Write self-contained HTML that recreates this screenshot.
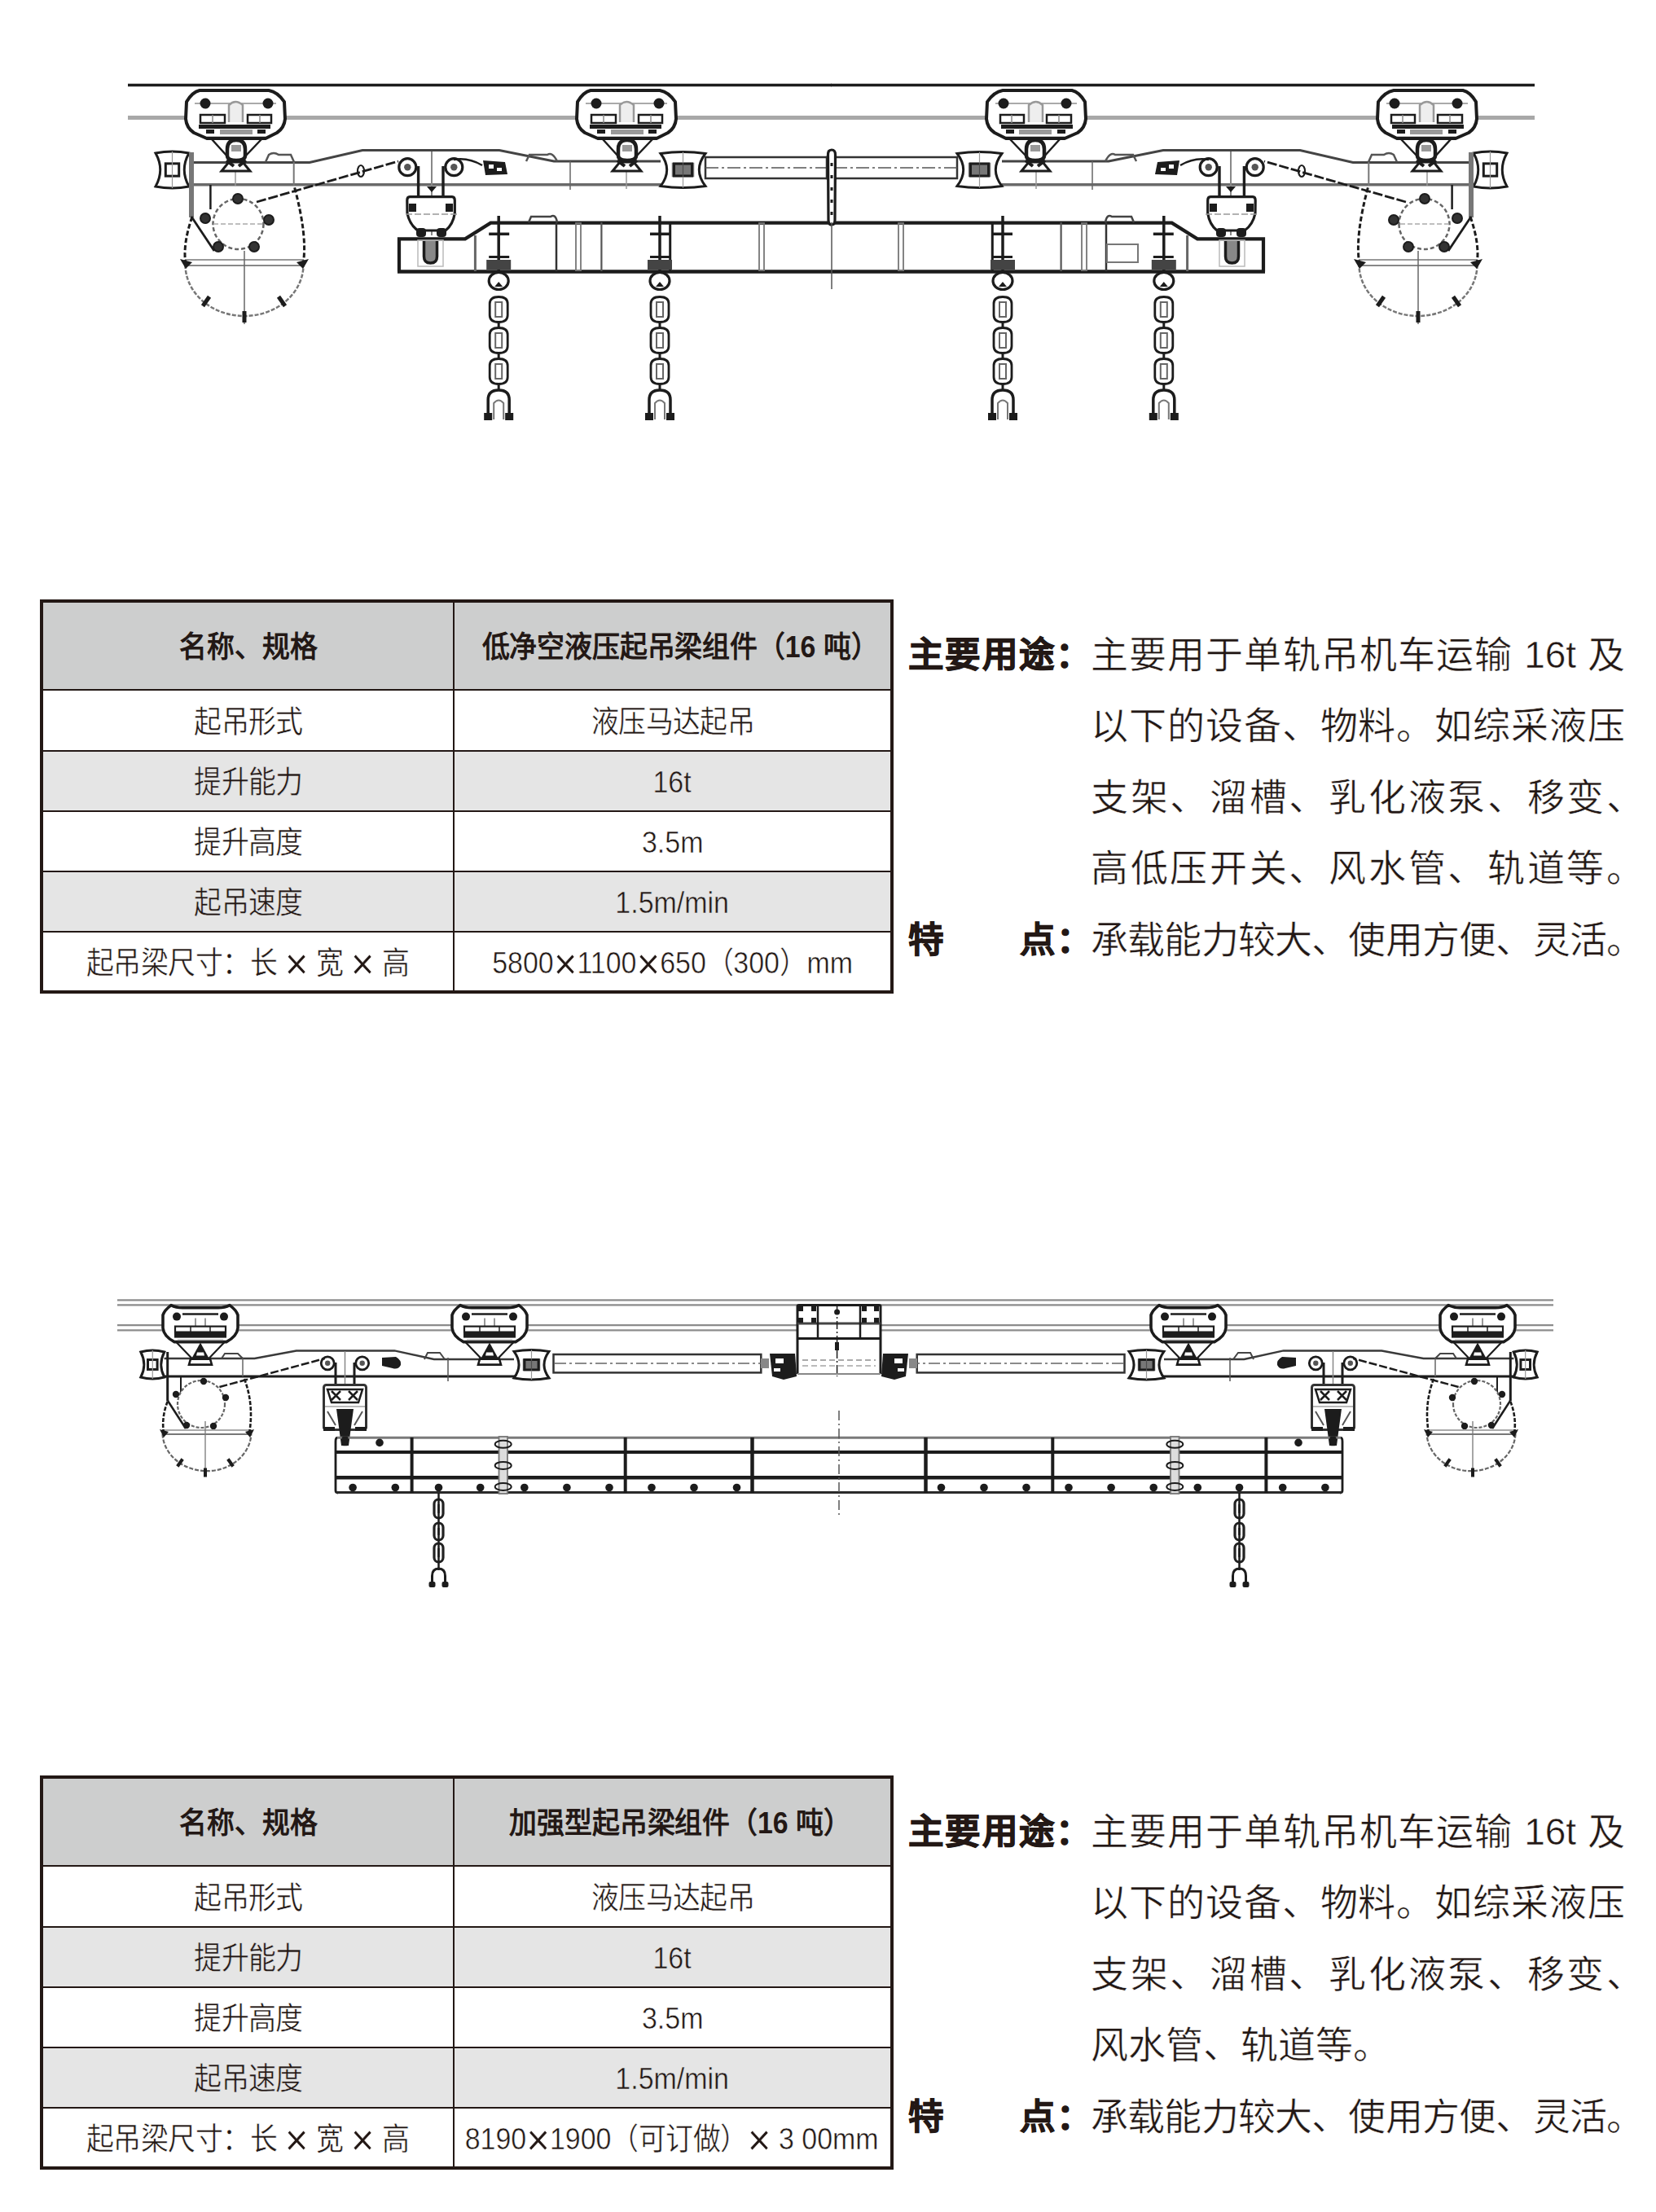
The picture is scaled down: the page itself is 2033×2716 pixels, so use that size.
<!DOCTYPE html>
<html lang="zh-CN">
<head>
<meta charset="utf-8">
<style>
html,body{margin:0;padding:0;background:#fff;}
body{width:2033px;height:2716px;position:relative;overflow:hidden;font-family:"Liberation Sans",sans-serif;color:#231815;}
.tbl{position:absolute;left:49px;width:1048px;height:484px;box-sizing:border-box;border:4px solid #231815;background:#fff;}
.row{position:absolute;left:0;width:1040px;}
.hl{position:absolute;left:0;width:1040px;height:2.2px;background:#231815;}
.vl{position:absolute;left:503px;top:0;width:2.4px;height:476px;background:#231815;}
.c{position:absolute;white-space:nowrap;font-size:37.5px;line-height:40px;height:40px;text-align:center;margin-top:2px;}
.x{font-size:1.45em;line-height:0;vertical-align:-0.12em;font-weight:300;}
.c1{left:0;width:503px;}
.c2{left:505px;width:535px;}
.c i{font-style:normal;}
.c span{display:inline-block;transform:scaleX(0.905);transform-origin:50% 50%;}
.b{font-weight:bold;font-size:36px;}
.b span{transform:scaleX(0.94);}
.thin{-webkit-text-stroke:0.5px #fff;}
.thg{-webkit-text-stroke:0.5px #e5e5e5;}
.txt{position:absolute;left:1115px;width:884px;font-size:46px;white-space:nowrap;}
.ln{position:absolute;left:0;height:88px;line-height:88px;}
.lab{position:absolute;left:0;font-weight:bold;font-size:43.5px;letter-spacing:2.3px;-webkit-text-stroke:1px #231815;}
.pe{letter-spacing:-23px;}
.body{-webkit-text-stroke:0.5px #fff;position:absolute;left:224px;width:656px;text-align:justify;text-align-last:justify;}
</style>
</head>
<body>
<svg width="2033" height="2716" viewBox="0 0 2033 2716" style="position:absolute;left:0;top:0"><g id="d1h"><line x1="157" y1="104.5" x2="1021" y2="104.5" stroke="#1c1c1c" stroke-width="3.5"/><line x1="157" y1="144.5" x2="1021" y2="144.5" stroke="#a8a8a8" stroke-width="5"/><path d="M232,199.5 L380,199.5 L445,184.6 L613,184.6 L680,198 L811,198" fill="none" stroke="#444" stroke-width="3"/><line x1="232" y1="226.8" x2="811" y2="226.8" stroke="#6a6a6a" stroke-width="3.5"/><line x1="360.7" y1="199" x2="360.7" y2="228" stroke="#777" stroke-width="2"/><path d="M326,199 L330,190 Q336,186 342,190 L357,190 L361,199" fill="none" stroke="#555" stroke-width="2.5"/><path d="M646,198 L650,190 L672,190 Q678,186 684,198" fill="none" stroke="#555" stroke-width="2.5"/><line x1="700" y1="198" x2="700" y2="233" stroke="#666" stroke-width="1.5"/><line x1="530" y1="186" x2="530" y2="289" stroke="#888" stroke-width="2"/><line x1="289" y1="209" x2="289" y2="228" stroke="#999" stroke-width="1.5"/><line x1="769" y1="209" x2="769" y2="232" stroke="#999" stroke-width="1.5"/><path d="M191,188 Q211.5,184 232,188 Q220.52,208.5 232,229 Q211.5,233 191,229 Q202.48,208.5 191,188 Z" fill="#fff" stroke="#1c1c1c" stroke-width="3"/><rect x="203.3" y="200.85" width="16.400000000000002" height="15.3" fill="none" stroke="#1c1c1c" stroke-width="3"/><line x1="211.5" y1="186" x2="211.5" y2="231" stroke="#999" stroke-width="1.2"/><path d="M811,188.5 Q838.5,184.5 866,188.5 Q850.6,208.5 866,228.5 Q838.5,232.5 811,228.5 Q826.4,208.5 811,188.5 Z" fill="#fff" stroke="#1c1c1c" stroke-width="3"/><rect x="827.5" y="201.02" width="22.0" height="14.96" fill="none" stroke="#1c1c1c" stroke-width="3"/><line x1="838.5" y1="186.5" x2="838.5" y2="230.5" stroke="#999" stroke-width="1.2"/><rect x="824.75" y="199.7" width="27.5" height="17.6" fill="#1c1c1c" opacity="0.6"/><rect x="866" y="193" width="160" height="26" fill="#fff" stroke="#333" stroke-width="2.5"/><line x1="866" y1="206" x2="1021" y2="206" stroke="#555" stroke-width="1.6" stroke-dasharray="16 4 3 4"/><g transform="translate(289,111) scale(1.0)"><path d="M-44,0 L41,0 Q52,2 60,14 L61,35 Q60,46 51,52 L37,59 L-35,59 L-51,52 Q-60,46 -61,35 L-60,14 Q-53,2 -44,0 Z" fill="#fff" stroke="#1c1c1c" stroke-width="4" stroke-linejoin="round"/><line x1="-50" y1="16" x2="50" y2="16" stroke="#aaa" stroke-width="2"/><circle cx="-37" cy="16" r="6.5" fill="#1c1c1c"/><circle cx="40" cy="16" r="6.5" fill="#1c1c1c"/><path d="M-8,39 L-8,18 Q0,10 9,18 L9,39" fill="#eee" stroke="#999" stroke-width="2.5"/><rect x="-43" y="30" width="30" height="10" fill="#fff" stroke="#1c1c1c" stroke-width="2.5"/><rect x="15" y="30" width="29" height="10" fill="#fff" stroke="#1c1c1c" stroke-width="2.5"/><line x1="-28" y1="30" x2="-28" y2="40" stroke="#888" stroke-width="1.5"/><line x1="30" y1="30" x2="30" y2="40" stroke="#888" stroke-width="1.5"/><rect x="-45" y="42" width="88" height="5" fill="#1c1c1c"/><rect x="-19" y="48" width="40" height="6" fill="#9a9a9a"/><rect x="-36" y="48" width="10" height="5" fill="#1c1c1c"/><rect x="27" y="48" width="10" height="5" fill="#1c1c1c"/><line x1="-35" y1="58" x2="37" y2="58" stroke="#1c1c1c" stroke-width="2.5"/><path d="M-29,60 L-9,82 M32,60 L11,82" stroke="#1c1c1c" stroke-width="2.5" fill="none"/><path d="M-10,72 Q-10,61 1,61 Q12,61 12,72 L12,80 Q12,86 1,86 Q-10,86 -10,80 Z" fill="#fff" stroke="#1c1c1c" stroke-width="4.5"/><rect x="-5" y="67" width="12" height="8" fill="#999"/><path d="M-8,88 L9,88 L18,99 L-17,99 Z" fill="#fff" stroke="#1c1c1c" stroke-width="3"/><path d="M-11,86 L-2,93 M13,86 L4,93" stroke="#1c1c1c" stroke-width="4"/></g><g transform="translate(769,111) scale(1.0)"><path d="M-44,0 L41,0 Q52,2 60,14 L61,35 Q60,46 51,52 L37,59 L-35,59 L-51,52 Q-60,46 -61,35 L-60,14 Q-53,2 -44,0 Z" fill="#fff" stroke="#1c1c1c" stroke-width="4" stroke-linejoin="round"/><line x1="-50" y1="16" x2="50" y2="16" stroke="#aaa" stroke-width="2"/><circle cx="-37" cy="16" r="6.5" fill="#1c1c1c"/><circle cx="40" cy="16" r="6.5" fill="#1c1c1c"/><path d="M-8,39 L-8,18 Q0,10 9,18 L9,39" fill="#eee" stroke="#999" stroke-width="2.5"/><rect x="-43" y="30" width="30" height="10" fill="#fff" stroke="#1c1c1c" stroke-width="2.5"/><rect x="15" y="30" width="29" height="10" fill="#fff" stroke="#1c1c1c" stroke-width="2.5"/><line x1="-28" y1="30" x2="-28" y2="40" stroke="#888" stroke-width="1.5"/><line x1="30" y1="30" x2="30" y2="40" stroke="#888" stroke-width="1.5"/><rect x="-45" y="42" width="88" height="5" fill="#1c1c1c"/><rect x="-19" y="48" width="40" height="6" fill="#9a9a9a"/><rect x="-36" y="48" width="10" height="5" fill="#1c1c1c"/><rect x="27" y="48" width="10" height="5" fill="#1c1c1c"/><line x1="-35" y1="58" x2="37" y2="58" stroke="#1c1c1c" stroke-width="2.5"/><path d="M-29,60 L-9,82 M32,60 L11,82" stroke="#1c1c1c" stroke-width="2.5" fill="none"/><path d="M-10,72 Q-10,61 1,61 Q12,61 12,72 L12,80 Q12,86 1,86 Q-10,86 -10,80 Z" fill="#fff" stroke="#1c1c1c" stroke-width="4.5"/><rect x="-5" y="67" width="12" height="8" fill="#999"/><path d="M-8,88 L9,88 L18,99 L-17,99 Z" fill="#fff" stroke="#1c1c1c" stroke-width="3"/><path d="M-11,86 L-2,93 M13,86 L4,93" stroke="#1c1c1c" stroke-width="4"/></g><circle cx="500.3" cy="205.2" r="10.5" fill="#fff" stroke="#1c1c1c" stroke-width="3.2"/><circle cx="500.3" cy="205.2" r="4.2" fill="#555"/><circle cx="557.3" cy="205.2" r="10.5" fill="#fff" stroke="#1c1c1c" stroke-width="3.2"/><circle cx="557.3" cy="205.2" r="4.2" fill="#555"/><path d="M513.6,204 L513.6,246 M544,204 L544,246" stroke="#1c1c1c" stroke-width="3.4"/><path d="M524,229 L536,229 L530,236 Z" fill="#1c1c1c"/><path d="M593,197 L620,199 L623,214 L596,215 Z" fill="#1c1c1c"/><rect x="600" y="202" width="6" height="5" fill="#fff"/><rect x="610" y="206" width="6" height="4" fill="#fff"/><path d="M557,196 Q575,193 592,203" fill="none" stroke="#1c1c1c" stroke-width="2.5"/><path d="M315,248 L489,198" fill="none" stroke="#1c1c1c" stroke-width="2.8" stroke-dasharray="12 3"/><ellipse cx="443" cy="210" rx="4" ry="7" fill="none" stroke="#1c1c1c" stroke-width="2.2"/><path d="M503,241.6 L555,241.6 Q558.3,241.6 558.3,246 L558.3,262 Q556,276 547,283 L513,283 Q503,276 500,262 L499.8,246 Q499.8,241.6 503,241.6 Z" fill="#fff" stroke="#1c1c1c" stroke-width="3.2"/><rect x="502" y="250" width="9" height="10" fill="#1c1c1c"/><rect x="547" y="250" width="9" height="10" fill="#1c1c1c"/><line x1="498" y1="263" x2="563" y2="263" stroke="#999" stroke-width="1.5" stroke-dasharray="8 3"/><rect x="511" y="280" width="12" height="11" rx="4" fill="#1c1c1c"/><rect x="536" y="280" width="12" height="11" rx="4" fill="#1c1c1c"/><path d="M490,333.5 L490,293.4 L571,293.4 L602.4,273.6 L1021,273.6" fill="none" stroke="#1c1c1c" stroke-width="4.2"/><line x1="488" y1="333.5" x2="1021" y2="333.5" stroke="#1c1c1c" stroke-width="4.5"/><path d="M520.5,296 L520.5,315 Q520.5,323 528.5,323 Q536.5,323 536.5,315 L536.5,296" fill="#888" stroke="#1c1c1c" stroke-width="3.5"/><rect x="513" y="295" width="31" height="32" fill="none" stroke="#bbb" stroke-width="1.5"/><line x1="583.4" y1="289" x2="583.4" y2="333" stroke="#666" stroke-width="3"/><line x1="683" y1="273" x2="683" y2="333" stroke="#333" stroke-width="2.5"/><rect x="707" y="274" width="6" height="58" fill="none" stroke="#777" stroke-width="1.8"/><line x1="738.4" y1="273" x2="738.4" y2="333" stroke="#555" stroke-width="2.2"/><line x1="822.7" y1="273" x2="822.7" y2="333" stroke="#1c1c1c" stroke-width="3"/><rect x="932" y="274" width="6" height="58" fill="none" stroke="#777" stroke-width="1.8"/><path d="M649,273 L652,266 L676,266 Q682,262 684,273" fill="none" stroke="#444" stroke-width="2.5"/><line x1="612.2" y1="265" x2="612.2" y2="333" stroke="#1c1c1c" stroke-width="3.5"/><line x1="600.2" y1="287.3" x2="625.2" y2="287.3" stroke="#1c1c1c" stroke-width="3.5"/><line x1="600.2" y1="315.5" x2="625.2" y2="315.5" stroke="#1c1c1c" stroke-width="3"/><rect x="597.2" y="319" width="30" height="12" fill="#444"/><g transform="translate(612.2,333) scale(1.0)"><ellipse cx="0" cy="12" rx="12" ry="10.5" fill="none" stroke="#1c1c1c" stroke-width="3.2"/><path d="M-5,19 L0,13 L5,19 Z" fill="#1c1c1c"/><path d="M-11,40 Q-11,31.5 0,31.5 Q11,31.5 11,40 L11,54 Q11,62.5 0,62.5 Q-11,62.5 -11,54 Z" fill="none" stroke="#1c1c1c" stroke-width="2.8"/><rect x="-4" y="38" width="8" height="18" fill="none" stroke="#666" stroke-width="2"/><line x1="0" y1="62" x2="0" y2="70" stroke="#1c1c1c" stroke-width="3"/><path d="M-11,78 Q-11,69.5 0,69.5 Q11,69.5 11,78 L11,92 Q11,100.5 0,100.5 Q-11,100.5 -11,92 Z" fill="none" stroke="#1c1c1c" stroke-width="2.8"/><rect x="-4" y="76" width="8" height="18" fill="none" stroke="#666" stroke-width="2"/><line x1="0" y1="100" x2="0" y2="108" stroke="#1c1c1c" stroke-width="3"/><path d="M-11,116 Q-11,107.5 0,107.5 Q11,107.5 11,116 L11,130 Q11,138.5 0,138.5 Q-11,138.5 -11,130 Z" fill="none" stroke="#1c1c1c" stroke-width="2.8"/><rect x="-4" y="114" width="8" height="18" fill="none" stroke="#666" stroke-width="2"/><line x1="0" y1="138" x2="0" y2="146" stroke="#1c1c1c" stroke-width="3"/><path d="M-13,182 L-13,158 Q-13,146 0,146 Q13,146 13,158 L13,182" fill="none" stroke="#1c1c1c" stroke-width="3.5"/><path d="M-6,182 L-6,162 Q0,155 6,162 L6,182" fill="none" stroke="#777" stroke-width="2"/><rect x="-18" y="174" width="10" height="9" fill="#1c1c1c"/><rect x="8" y="174" width="10" height="9" fill="#1c1c1c"/></g><line x1="810" y1="265" x2="810" y2="333" stroke="#1c1c1c" stroke-width="3.5"/><line x1="798" y1="287.3" x2="823" y2="287.3" stroke="#1c1c1c" stroke-width="3.5"/><line x1="798" y1="315.5" x2="823" y2="315.5" stroke="#1c1c1c" stroke-width="3"/><rect x="795" y="319" width="30" height="12" fill="#444"/><g transform="translate(810,333) scale(1.0)"><ellipse cx="0" cy="12" rx="12" ry="10.5" fill="none" stroke="#1c1c1c" stroke-width="3.2"/><path d="M-5,19 L0,13 L5,19 Z" fill="#1c1c1c"/><path d="M-11,40 Q-11,31.5 0,31.5 Q11,31.5 11,40 L11,54 Q11,62.5 0,62.5 Q-11,62.5 -11,54 Z" fill="none" stroke="#1c1c1c" stroke-width="2.8"/><rect x="-4" y="38" width="8" height="18" fill="none" stroke="#666" stroke-width="2"/><line x1="0" y1="62" x2="0" y2="70" stroke="#1c1c1c" stroke-width="3"/><path d="M-11,78 Q-11,69.5 0,69.5 Q11,69.5 11,78 L11,92 Q11,100.5 0,100.5 Q-11,100.5 -11,92 Z" fill="none" stroke="#1c1c1c" stroke-width="2.8"/><rect x="-4" y="76" width="8" height="18" fill="none" stroke="#666" stroke-width="2"/><line x1="0" y1="100" x2="0" y2="108" stroke="#1c1c1c" stroke-width="3"/><path d="M-11,116 Q-11,107.5 0,107.5 Q11,107.5 11,116 L11,130 Q11,138.5 0,138.5 Q-11,138.5 -11,130 Z" fill="none" stroke="#1c1c1c" stroke-width="2.8"/><rect x="-4" y="114" width="8" height="18" fill="none" stroke="#666" stroke-width="2"/><line x1="0" y1="138" x2="0" y2="146" stroke="#1c1c1c" stroke-width="3"/><path d="M-13,182 L-13,158 Q-13,146 0,146 Q13,146 13,158 L13,182" fill="none" stroke="#1c1c1c" stroke-width="3.5"/><path d="M-6,182 L-6,162 Q0,155 6,162 L6,182" fill="none" stroke="#777" stroke-width="2"/><rect x="-18" y="174" width="10" height="9" fill="#1c1c1c"/><rect x="8" y="174" width="10" height="9" fill="#1c1c1c"/></g><rect x="232" y="187" width="6" height="80" fill="#777"/><line x1="258.4" y1="227" x2="258.4" y2="257" stroke="#1c1c1c" stroke-width="2.5"/><circle cx="292.5" cy="275" r="31" fill="#fff" stroke="#666" stroke-width="2.5" stroke-dasharray="5 3"/><circle cx="252" cy="268" r="6" fill="#333" stroke="#1c1c1c" stroke-width="2"/><circle cx="330" cy="270" r="6" fill="#333" stroke="#1c1c1c" stroke-width="2"/><circle cx="268" cy="303" r="6" fill="#333" stroke="#1c1c1c" stroke-width="2"/><circle cx="312" cy="303" r="6" fill="#333" stroke="#1c1c1c" stroke-width="2"/><circle cx="292" cy="244" r="6" fill="#333" stroke="#1c1c1c" stroke-width="2"/><line x1="262" y1="275" x2="322" y2="275" stroke="#aaa" stroke-width="1.5" stroke-dasharray="6 3"/><path d="M235,266 L263,308" stroke="#1c1c1c" stroke-width="2.8"/><path d="M227.5,325 A72.5,63 0 0 0 372.5,325" fill="none" stroke="#777" stroke-width="2.5" stroke-dasharray="5 2"/><line x1="227" y1="319" x2="373" y2="319" stroke="#999" stroke-width="2"/><line x1="227" y1="326" x2="373" y2="326" stroke="#888" stroke-width="2"/><line x1="300" y1="308" x2="300" y2="398" stroke="#666" stroke-width="1.5"/><path d="M228,325 Q224,300 236,266 M372,325 Q378,290 361,228" fill="none" stroke="#1c1c1c" stroke-width="3" stroke-dasharray="6 3"/><path d="M221,318 L236,322 L228,330 Z M379,318 L364,322 L372,330 Z" fill="#1c1c1c"/><rect x="250.5" y="363" width="5" height="14" fill="#1c1c1c" transform="rotate(35 253 370)"/><rect x="297.5" y="382" width="5" height="14" fill="#1c1c1c" transform="rotate(0 300 389)"/><rect x="343.5" y="363" width="5" height="14" fill="#1c1c1c" transform="rotate(-35 346 370)"/></g><use href="#d1h" transform="translate(2041,0) scale(-1,1)"/><path d="M1016.5,190 Q1016.5,184 1021,184 Q1025.5,184 1025.5,190 L1025,270 Q1025,276 1021,276 Q1017,276 1017,270 Z" fill="#fff" stroke="#1c1c1c" stroke-width="3.2"/><rect x="1019.5" y="200" width="3" height="4" fill="#1c1c1c"/><rect x="1019.5" y="215" width="3" height="4" fill="#1c1c1c"/><rect x="1019.5" y="230" width="3" height="4" fill="#1c1c1c"/><rect x="1019.5" y="245" width="3" height="4" fill="#1c1c1c"/><rect x="1019.5" y="260" width="3" height="4" fill="#1c1c1c"/><line x1="1021" y1="273" x2="1021" y2="355" stroke="#555" stroke-width="1.5"/><rect x="1359" y="300" width="38" height="22" fill="none" stroke="#777" stroke-width="2"/><line x1="144" y1="1596.4" x2="1907" y2="1596.4" stroke="#8c8c8c" stroke-width="2.2"/><line x1="144" y1="1602.4" x2="1907" y2="1602.4" stroke="#8c8c8c" stroke-width="2.2"/><line x1="144" y1="1627.2" x2="1907" y2="1627.2" stroke="#8c8c8c" stroke-width="2.2"/><line x1="144" y1="1633.4" x2="1907" y2="1633.4" stroke="#8c8c8c" stroke-width="2.2"/><g id="d2h"><path d="M201.6,1668 L312.5,1668 L363.8,1658.4 L484.3,1658.4 L532.7,1669 L631,1669" fill="none" stroke="#3a3a3a" stroke-width="2.5"/><line x1="199" y1="1690" x2="640" y2="1690" stroke="#1c1c1c" stroke-width="3"/><line x1="298" y1="1668" x2="298" y2="1690" stroke="#666" stroke-width="1.5"/><line x1="550" y1="1667" x2="550" y2="1696" stroke="#555" stroke-width="1.5"/><path d="M272,1668 L276,1662 L292,1662 L298,1668 M521,1669 L525,1661 L540,1661 L546,1669" fill="none" stroke="#444" stroke-width="2"/><path d="M172.8,1660 Q187.3,1656 201.8,1660 Q193.68,1675.5 201.8,1691 Q187.3,1695 172.8,1691 Q180.92000000000002,1675.5 172.8,1660 Z" fill="#fff" stroke="#1c1c1c" stroke-width="3"/><rect x="181.5" y="1669.55" width="11.600000000000001" height="11.9" fill="none" stroke="#1c1c1c" stroke-width="3"/><line x1="187.3" y1="1658" x2="187.3" y2="1693" stroke="#999" stroke-width="1.2"/><path d="M631,1659.4 Q652.5,1655.4 674,1659.4 Q661.96,1675.7 674,1692.0 Q652.5,1696.0 631,1692.0 Q643.04,1675.7 631,1659.4 Z" fill="#fff" stroke="#1c1c1c" stroke-width="3"/><rect x="643.9" y="1669.478" width="17.2" height="12.444" fill="none" stroke="#1c1c1c" stroke-width="3"/><line x1="652.5" y1="1657.4" x2="652.5" y2="1694.0" stroke="#999" stroke-width="1.2"/><rect x="641.75" y="1668.38" width="21.5" height="14.64" fill="#1c1c1c" opacity="0.6"/><rect x="679.5" y="1663" width="254.8" height="22.4" fill="#fff" stroke="#333" stroke-width="2.5"/><line x1="681" y1="1674" x2="934" y2="1674" stroke="#666" stroke-width="1.5" stroke-dasharray="14 4 3 4"/><path d="M945,1662 L976,1662 L978,1690 L962,1694 L948,1690 Z" fill="#1c1c1c"/><rect x="952" y="1668" width="10" height="6" fill="#fff"/><rect x="950" y="1680" width="8" height="4" fill="#fff"/><rect x="934" y="1668" width="10" height="12" fill="#888"/><g transform="translate(246,1604.6)"><path d="M-36,-2 Q-30,1 -22,1 L22,1 Q30,1 36,-2 Q44,4 46,10 L46,26 Q45,36 32,43 L-32,43 Q-45,36 -46,26 L-46,10 Q-44,4 -36,-2 Z" fill="#fff" stroke="#1c1c1c" stroke-width="3.6" stroke-linejoin="round"/><circle cx="-29" cy="12" r="5" fill="#1c1c1c"/><circle cx="29" cy="12" r="5" fill="#1c1c1c"/><line x1="-22" y1="9" x2="22" y2="9" stroke="#1c1c1c" stroke-width="2.5"/><path d="M-6,14 L-6,28 M6,14 L6,28" stroke="#999" stroke-width="2"/><rect x="-31" y="24" width="62" height="7" fill="#fff" stroke="#1c1c1c" stroke-width="2.2"/><line x1="-12" y1="24" x2="-12" y2="31" stroke="#1c1c1c" stroke-width="1.5"/><line x1="12" y1="24" x2="12" y2="31" stroke="#1c1c1c" stroke-width="1.5"/><rect x="-32" y="31" width="64" height="7" fill="#1c1c1c"/><line x1="-28" y1="41" x2="28" y2="41" stroke="#999" stroke-width="1.5"/><path d="M-30,43 L-8,66 M30,43 L8,66" stroke="#1c1c1c" stroke-width="2.2"/><path d="M0,44 L-11,64 L11,64 Z" fill="#1c1c1c"/><path d="M-4,56 L4,56 L5,60 L-5,60 Z" fill="#fff"/><path d="M-12,64 L12,64 L14,71 L-14,71 Z" fill="#fff" stroke="#1c1c1c" stroke-width="2.6"/></g><g transform="translate(601,1604.6)"><path d="M-36,-2 Q-30,1 -22,1 L22,1 Q30,1 36,-2 Q44,4 46,10 L46,26 Q45,36 32,43 L-32,43 Q-45,36 -46,26 L-46,10 Q-44,4 -36,-2 Z" fill="#fff" stroke="#1c1c1c" stroke-width="3.6" stroke-linejoin="round"/><circle cx="-29" cy="12" r="5" fill="#1c1c1c"/><circle cx="29" cy="12" r="5" fill="#1c1c1c"/><line x1="-22" y1="9" x2="22" y2="9" stroke="#1c1c1c" stroke-width="2.5"/><path d="M-6,14 L-6,28 M6,14 L6,28" stroke="#999" stroke-width="2"/><rect x="-31" y="24" width="62" height="7" fill="#fff" stroke="#1c1c1c" stroke-width="2.2"/><line x1="-12" y1="24" x2="-12" y2="31" stroke="#1c1c1c" stroke-width="1.5"/><line x1="12" y1="24" x2="12" y2="31" stroke="#1c1c1c" stroke-width="1.5"/><rect x="-32" y="31" width="64" height="7" fill="#1c1c1c"/><line x1="-28" y1="41" x2="28" y2="41" stroke="#999" stroke-width="1.5"/><path d="M-30,43 L-8,66 M30,43 L8,66" stroke="#1c1c1c" stroke-width="2.2"/><path d="M0,44 L-11,64 L11,64 Z" fill="#1c1c1c"/><path d="M-4,56 L4,56 L5,60 L-5,60 Z" fill="#fff"/><path d="M-12,64 L12,64 L14,71 L-14,71 Z" fill="#fff" stroke="#1c1c1c" stroke-width="2.6"/></g><circle cx="402.2" cy="1673.8" r="8" fill="#fff" stroke="#1c1c1c" stroke-width="2.8"/><circle cx="402.2" cy="1673.8" r="3.2" fill="#555"/><circle cx="444.7" cy="1673.8" r="8" fill="#fff" stroke="#1c1c1c" stroke-width="2.8"/><circle cx="444.7" cy="1673.8" r="3.2" fill="#555"/><path d="M412,1673 L412,1702 M435,1673 L435,1702" stroke="#1c1c1c" stroke-width="3"/><line x1="423.5" y1="1659" x2="423.5" y2="1700" stroke="#888" stroke-width="1.5"/><path d="M469,1667 L486,1666 Q493,1670 492,1676 Q489,1682 482,1680 L469,1677 Z" fill="#1c1c1c"/><path d="M269.4,1703 L398.7,1668" fill="none" stroke="#1c1c1c" stroke-width="2.5" stroke-dasharray="10 3"/><rect x="397.5" y="1700.5" width="52" height="55" rx="3" fill="#fff" stroke="#333" stroke-width="3"/><path d="M402,1706 L445,1706 L440,1722 L407,1722 Z" fill="none" stroke="#1c1c1c" stroke-width="2.5"/><path d="M407,1708 L418,1719 M418,1708 L407,1719 M428,1708 L439,1719 M439,1708 L428,1719" stroke="#1c1c1c" stroke-width="2.5"/><line x1="399" y1="1727" x2="448" y2="1727" stroke="#bbb" stroke-width="2"/><path d="M413,1730 L434,1730 L431,1752 L428,1775 L419,1775 L416,1752 Z" fill="#1c1c1c"/><path d="M402,1733 L412,1750 M445,1733 L435,1750" stroke="#555" stroke-width="2"/><rect x="397" y="1752" width="14" height="5" fill="#1c1c1c"/><rect x="436" y="1752" width="14" height="5" fill="#1c1c1c"/><line x1="205.7" y1="1660" x2="205.7" y2="1720" stroke="#1c1c1c" stroke-width="3"/><line x1="222" y1="1690" x2="222" y2="1712" stroke="#1c1c1c" stroke-width="2"/><circle cx="247" cy="1724" r="29" fill="#fff" stroke="#666" stroke-width="2.2" stroke-dasharray="4 2"/><circle cx="216" cy="1712" r="4.2" fill="#1c1c1c"/><circle cx="277" cy="1716" r="4.2" fill="#1c1c1c"/><circle cx="229" cy="1750" r="4.2" fill="#1c1c1c"/><circle cx="262" cy="1751" r="4.2" fill="#1c1c1c"/><circle cx="250" cy="1696" r="4.2" fill="#1c1c1c"/><path d="M206,1720 L228,1754" stroke="#1c1c1c" stroke-width="2.5"/><path d="M199.5,1760.7 A54.5,47.5 0 0 0 308.4,1760.7" fill="none" stroke="#666" stroke-width="2.2" stroke-dasharray="5 2"/><line x1="199" y1="1756" x2="309" y2="1756" stroke="#aaa" stroke-width="2"/><line x1="199" y1="1761" x2="309" y2="1761" stroke="#777" stroke-width="2"/><line x1="252" y1="1745" x2="252" y2="1813" stroke="#777" stroke-width="1.3"/><path d="M201,1760 Q198,1740 206,1720 M306,1760 Q312,1725 300,1693" fill="none" stroke="#1c1c1c" stroke-width="2.6" stroke-dasharray="5 2"/><path d="M196,1755 L207,1758 L201,1765 Z M312,1755 L301,1758 L307,1765 Z" fill="#1c1c1c"/><rect x="219" y="1790.5" width="4" height="11" fill="#1c1c1c" transform="rotate(35 221 1796)"/><rect x="250" y="1802.5" width="4" height="11" fill="#1c1c1c" transform="rotate(0 252 1808)"/><rect x="281" y="1790.5" width="4" height="11" fill="#1c1c1c" transform="rotate(-35 283 1796)"/><line x1="414" y1="1765.2" x2="1031" y2="1765.2" stroke="#7a7a7a" stroke-width="3"/><path d="M414,1765.5 Q412,1765.5 412,1770 L412,1830 Q412,1833 415,1833" fill="none" stroke="#1c1c1c" stroke-width="2.8"/><line x1="413" y1="1783" x2="1031" y2="1783" stroke="#1c1c1c" stroke-width="4.2"/><line x1="413" y1="1814.3" x2="1031" y2="1814.3" stroke="#1c1c1c" stroke-width="4.5"/><line x1="413" y1="1832.5" x2="1031" y2="1832.5" stroke="#2a2a2a" stroke-width="3"/><line x1="505.6" y1="1765" x2="505.6" y2="1833" stroke="#1c1c1c" stroke-width="4"/><line x1="767.7" y1="1765" x2="767.7" y2="1833" stroke="#1c1c1c" stroke-width="4"/><line x1="923.5" y1="1765" x2="923.5" y2="1833" stroke="#1c1c1c" stroke-width="4.5"/><rect x="612.5" y="1764" width="10.5" height="70" fill="#ddd" stroke="#777" stroke-width="1.8"/><ellipse cx="617.7" cy="1773.3" rx="10" ry="4.5" fill="none" stroke="#1c1c1c" stroke-width="2"/><ellipse cx="617.7" cy="1799.4" rx="10" ry="4.5" fill="none" stroke="#1c1c1c" stroke-width="2"/><ellipse cx="617.7" cy="1825.5" rx="10" ry="4.5" fill="none" stroke="#1c1c1c" stroke-width="2"/><rect x="419.6" y="1763.7" width="8" height="11.6" rx="2" fill="#1c1c1c"/><circle cx="466" cy="1771.4" r="4.8" fill="#1c1c1c"/><circle cx="433.1" cy="1826.5" r="4.8" fill="#1c1c1c"/><circle cx="485.3" cy="1826.5" r="4.8" fill="#1c1c1c"/><circle cx="538.5" cy="1826.5" r="4.8" fill="#1c1c1c"/><circle cx="589.7" cy="1826.5" r="4.8" fill="#1c1c1c"/><circle cx="643.8" cy="1826.5" r="4.8" fill="#1c1c1c"/><circle cx="695.9" cy="1826.5" r="4.8" fill="#1c1c1c"/><circle cx="748" cy="1826.5" r="4.8" fill="#1c1c1c"/><circle cx="800" cy="1826.5" r="4.8" fill="#1c1c1c"/><circle cx="852" cy="1826.5" r="4.8" fill="#1c1c1c"/><circle cx="904.5" cy="1826.5" r="4.8" fill="#1c1c1c"/><g transform="translate(538.5,1833)"><rect x="-5.5" y="8" width="11" height="23" rx="5.5" fill="#fff" stroke="#222" stroke-width="3.2"/><rect x="-1.5" y="14" width="3" height="11" fill="#555"/><rect x="-5.5" y="37" width="11" height="21" rx="5.5" fill="#fff" stroke="#222" stroke-width="3.2"/><rect x="-1.5" y="43" width="3" height="9" fill="#555"/><rect x="-5.5" y="62" width="11" height="23" rx="5.5" fill="#fff" stroke="#222" stroke-width="3.2"/><rect x="-1.5" y="68" width="3" height="11" fill="#555"/><line x1="0" y1="0" x2="0" y2="95" stroke="#1c1c1c" stroke-width="2.5"/><path d="M-8,116 L-8,102 Q-8,93 0,93 Q8,93 8,102 L8,116" fill="none" stroke="#1c1c1c" stroke-width="3"/><rect x="-12" y="109" width="8" height="7" rx="2" fill="#1c1c1c"/><rect x="4" y="109" width="8" height="7" rx="2" fill="#1c1c1c"/></g></g><use href="#d2h" transform="translate(2060,0) scale(-1,1)"/><rect x="979" y="1602.6" width="102" height="84.4" fill="#fff" stroke="none"/><path d="M979,1687 L979,1604 Q979,1602.6 981,1602.6 L1079,1602.6 Q1081,1602.6 1081,1604 L1081,1687" fill="none" stroke="#1c1c1c" stroke-width="3"/><line x1="979" y1="1625" x2="1081" y2="1625" stroke="#444" stroke-width="3"/><line x1="979" y1="1643.4" x2="1081" y2="1643.4" stroke="#1c1c1c" stroke-width="3"/><line x1="979" y1="1687" x2="1081" y2="1687" stroke="#888" stroke-width="2"/><line x1="1004" y1="1604" x2="1004" y2="1643" stroke="#1c1c1c" stroke-width="2.5"/><line x1="1056" y1="1604" x2="1056" y2="1643" stroke="#1c1c1c" stroke-width="2.5"/><rect x="980" y="1604" width="6" height="6" fill="#1c1c1c"/><rect x="996" y="1604" width="6" height="6" fill="#1c1c1c"/><rect x="980" y="1618" width="6" height="6" fill="#1c1c1c"/><rect x="996" y="1618" width="6" height="6" fill="#1c1c1c"/><rect x="1058" y="1604" width="6" height="6" fill="#1c1c1c"/><rect x="1073" y="1604" width="6" height="6" fill="#1c1c1c"/><rect x="1058" y="1618" width="6" height="6" fill="#1c1c1c"/><rect x="1073" y="1618" width="6" height="6" fill="#1c1c1c"/><line x1="985" y1="1670" x2="1075" y2="1670" stroke="#aaa" stroke-width="2" stroke-dasharray="7 4"/><line x1="985" y1="1677" x2="1075" y2="1677" stroke="#bbb" stroke-width="2" stroke-dasharray="7 4"/><line x1="1027.6" y1="1604" x2="1027.6" y2="1690" stroke="#1c1c1c" stroke-width="1.5" stroke-dasharray="10 3 2 3"/><circle cx="1027.6" cy="1611" r="3.5" fill="#1c1c1c"/><rect x="1025" y="1648" width="5" height="10" fill="#1c1c1c"/><line x1="1030" y1="1732" x2="1030" y2="1861" stroke="#555" stroke-width="1.5" stroke-dasharray="12 4 2 4"/></svg>
<!-- TABLE1 -->
<div class="tbl" style="top:736px">
  <div class="row" style="top:0;height:105.5px;background:#cdcece"></div>
  <div class="row" style="top:183px;height:72px;background:#e5e5e5"></div>
  <div class="row" style="top:330px;height:74px;background:#e5e5e5"></div>
  <div class="hl" style="top:105.5px"></div>
  <div class="hl" style="top:181px"></div>
  <div class="hl" style="top:254.5px"></div>
  <div class="hl" style="top:329px"></div>
  <div class="hl" style="top:403px"></div>
  <div class="vl"></div>
  <div class="c c1 b" style="top:33px"><span>名称、规格</span></div>
  <div class="c c2 b" style="top:33px;left:515px"><span>低净空液压起吊梁组件（16 吨）</span></div>
  <div class="c c1 thin" style="top:124px"><span>起吊形式</span></div>
  <div class="c c2 thin" style="top:124px"><span>液压马达起吊</span></div>
  <div class="c c1 thg" style="top:198px"><span>提升能力</span></div>
  <div class="c c2 thg" style="top:198px"><span>16t</span></div>
  <div class="c c1 thin" style="top:272px"><span>提升高度</span></div>
  <div class="c c2 thin" style="top:272px"><span>3.5m</span></div>
  <div class="c c1 thg" style="top:346px"><span>起吊速度</span></div>
  <div class="c c2 thg" style="top:346px"><span>1.5m/min</span></div>
  <div class="c c1 thin" style="top:420px"><span>起吊梁尺寸：长 <i class="x">×</i> 宽 <i class="x">×</i> 高</span></div>
  <div class="c c2 thin" style="top:420px"><span>5800<i class="x">×</i>1100<i class="x">×</i>650（300）mm</span></div>
</div>
<!-- TEXT1 -->
<div class="txt" style="top:759.5px">
  <div class="ln lab" style="top:0">主要用途：</div>
  <div class="ln body" style="top:0">主要用于单轨吊机车运输 16t 及</div>
  <div class="ln body" style="top:87.6px">以下的设备、物料。如综采液压</div>
  <div class="ln body" style="top:175.2px">支架、溜槽、乳化液泵、移变<span class="pe">、</span></div>
  <div class="ln body" style="top:262.8px">高低压开关、风水管、轨道等<span class="pe">。</span></div>
  <div class="ln lab" style="top:350.4px">特</div>
  <div class="ln lab" style="top:350.4px;left:137px">点：</div>
  <div class="ln body" style="top:350.4px;letter-spacing:-0.8px">承载能力较大、使用方便、灵活<span class="pe">。</span></div>
</div>
<!-- DRAWING2 -->
<!-- TABLE2 -->
<div class="tbl" style="top:2180px">
  <div class="row" style="top:0;height:105.5px;background:#cdcece"></div>
  <div class="row" style="top:183px;height:72px;background:#e5e5e5"></div>
  <div class="row" style="top:330px;height:74px;background:#e5e5e5"></div>
  <div class="hl" style="top:105.5px"></div>
  <div class="hl" style="top:181px"></div>
  <div class="hl" style="top:254.5px"></div>
  <div class="hl" style="top:329px"></div>
  <div class="hl" style="top:403px"></div>
  <div class="vl"></div>
  <div class="c c1 b" style="top:33px"><span>名称、规格</span></div>
  <div class="c c2 b" style="top:33px;left:515px"><span>加强型起吊梁组件（16 吨）</span></div>
  <div class="c c1 thin" style="top:124px"><span>起吊形式</span></div>
  <div class="c c2 thin" style="top:124px"><span>液压马达起吊</span></div>
  <div class="c c1 thg" style="top:198px"><span>提升能力</span></div>
  <div class="c c2 thg" style="top:198px"><span>16t</span></div>
  <div class="c c1 thin" style="top:272px"><span>提升高度</span></div>
  <div class="c c2 thin" style="top:272px"><span>3.5m</span></div>
  <div class="c c1 thg" style="top:346px"><span>起吊速度</span></div>
  <div class="c c2 thg" style="top:346px"><span>1.5m/min</span></div>
  <div class="c c1 thin" style="top:420px"><span>起吊梁尺寸：长 <i class="x">×</i> 宽 <i class="x">×</i> 高</span></div>
  <div class="c c2 thin" style="top:420px;left:491px"><span>8190<i class="x">×</i>1900（可订做）<i class="x">×</i> 3 00mm</span></div>
</div>
<!-- TEXT2 -->
<div class="txt" style="top:2204.5px">
  <div class="ln lab" style="top:0">主要用途：</div>
  <div class="ln body" style="top:0">主要用于单轨吊机车运输 16t 及</div>
  <div class="ln body" style="top:87.6px">以下的设备、物料。如综采液压</div>
  <div class="ln body" style="top:175.2px">支架、溜槽、乳化液泵、移变<span class="pe">、</span></div>
  <div class="ln" style="top:262.8px;left:224px;-webkit-text-stroke:0.5px #fff">风水管、轨道等。</div>
  <div class="ln lab" style="top:350.4px">特</div>
  <div class="ln lab" style="top:350.4px;left:137px">点：</div>
  <div class="ln body" style="top:350.4px;letter-spacing:-0.8px">承载能力较大、使用方便、灵活<span class="pe">。</span></div>
</div>
</body>
</html>
